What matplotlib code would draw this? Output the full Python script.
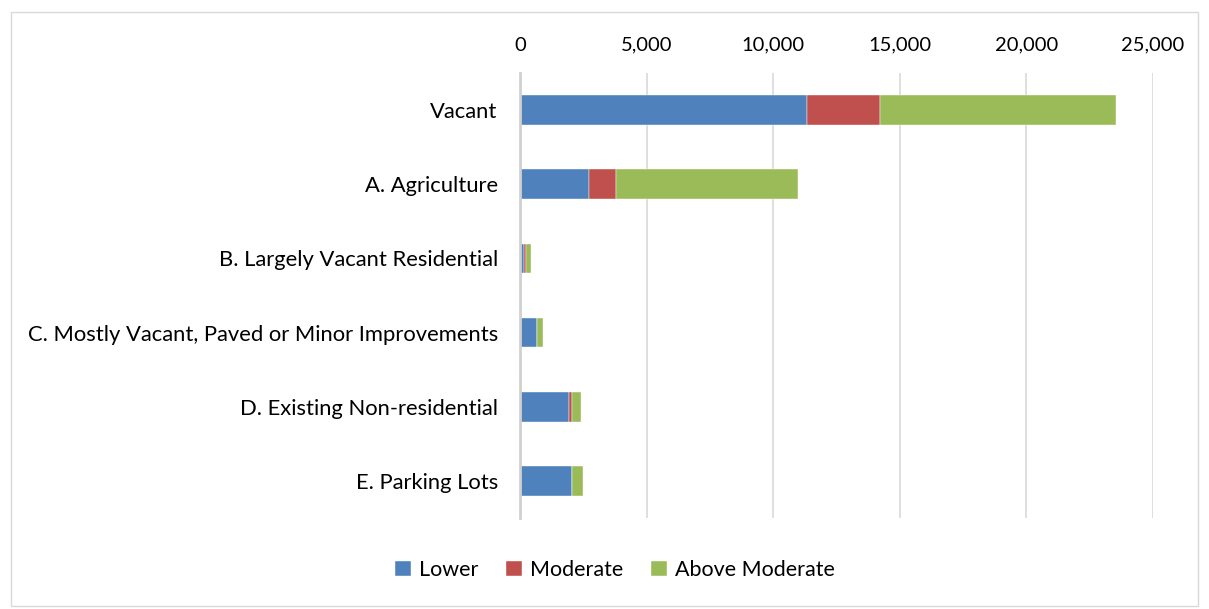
import matplotlib
matplotlib.use("Agg")
import matplotlib.pyplot as plt
from matplotlib.patches import Rectangle
import numpy as np

categories = ["Vacant", "A. Agriculture", "B. Largely Vacant Residential",
              "C. Mostly Vacant, Paved or Minor Improvements",
              "D. Existing Non-residential", "E. Parking Lots"]
lower = [11340, 2720, 160, 670, 1930, 2050]
moderate = [2880, 1070, 65, 0, 120, 0]
above_moderate = [9310, 7170, 195, 225, 370, 450]
series_names = ["Lower", "Moderate", "Above Moderate"]
colors = ["#4F81BD", "#C0504D", "#9BBB59"]
xticks = [0, 5000, 10000, 15000, 20000, 25000]

plt.rcParams['font.family'] = ['Lato', 'DejaVu Sans']

W, H = 1209, 609
fig = plt.figure(figsize=(W/100, H/100), dpi=100)
ax = fig.add_axes([520/W, 1-518/H, (1153-520)/W, (518-73)/H])

y = np.arange(len(categories))
left = np.zeros(len(categories))
handles = []
for vals, name, c in zip([lower, moderate, above_moderate], series_names, colors):
    vals = np.array(vals, dtype=float)
    b = ax.barh(y, vals, left=left, height=0.4, color=c, label=name,
                edgecolor="white", linewidth=0.3, zorder=3)
    left += vals
    handles.append(b)

ax.set_ylim(len(categories)-0.5, -0.5)
ax.set_xlim(0, 25000)
ax.set_xticks(xticks)
ax.set_xticklabels([f"{v:,}" for v in xticks])
ax.xaxis.tick_top()
ax.tick_params(axis='x', length=0, pad=14, labelsize=14.5, colors="#000000")
ax.tick_params(axis='y', length=0, pad=16, labelsize=15.8)
ax.set_yticks(y)
ax.set_yticklabels(categories)
ax.grid(axis='x', color="#D9D9D9", linewidth=1.2, zorder=0)
for s in ["top", "right", "bottom"]:
    ax.spines[s].set_visible(False)
ax.spines["left"].set_color("#D0D0D0")
ax.spines["left"].set_linewidth(2)
ax.spines["left"].set_zorder(4)

fig.legend(handles=handles, labels=series_names, loc="center",
           bbox_to_anchor=(615/W, 1-570/H), ncol=3, frameon=False,
           fontsize=15.5, handlelength=0.75, handleheight=0.75,
           handletextpad=0.35, columnspacing=1.3)

fig.patches.append(Rectangle((11/W, 3/H), (1198-11)/W, (597-3)/H,
                             transform=fig.transFigure, fill=False,
                             edgecolor="#D9D9D9", linewidth=1))

fig.savefig("out.png", dpi=100)
